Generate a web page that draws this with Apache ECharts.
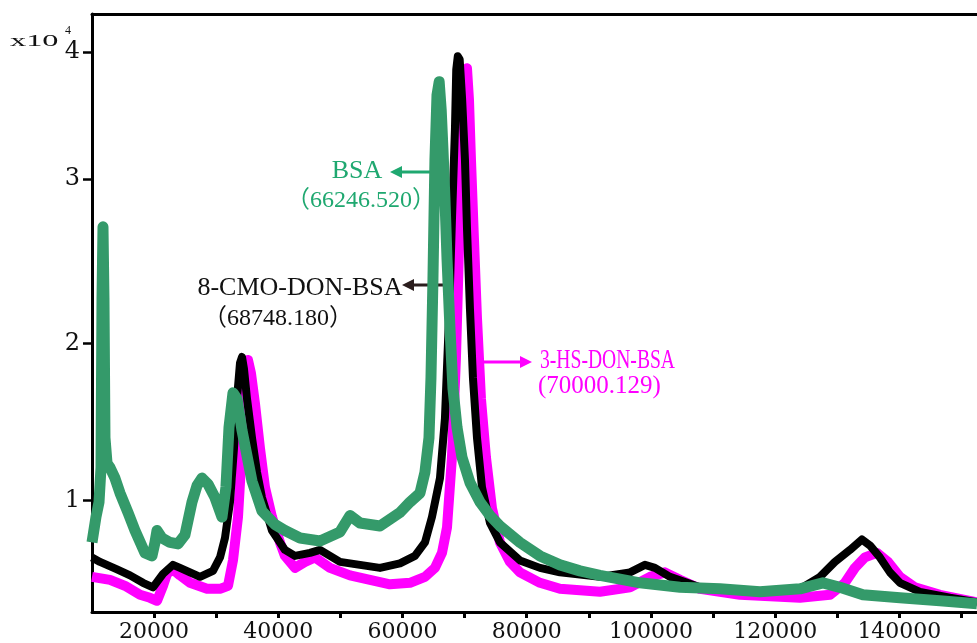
<!DOCTYPE html>
<html>
<head>
<meta charset="utf-8">
<script src="https://cdn.jsdelivr.net/npm/echarts@6/dist/echarts.min.js"></script>
<style>
  html, body { margin: 0; padding: 0; background: #fff; }
  #main { width: 977px; height: 643px; }
</style>
</head>
<body>
<div id="main"></div>
<script>
// mass (Da), intensity (x10^4)
const bsa = [
  [10000, 0.72], [10640, 0.89], [11130, 0.99], [11450, 1.22], [11610, 2.35], [11770, 2.83],
  [11930, 2.35], [12090, 1.42], [12420, 1.25], [12900, 1.22], [13700, 1.15], [14510, 1.05],
  [15800, 0.92], [16920, 0.80], [18530, 0.65], [19660, 0.63], [20140, 0.72], [20470, 0.80],
  [21270, 0.75], [22560, 0.72], [23850, 0.71], [24970, 0.77], [26100, 0.99], [26910, 1.10],
  [27710, 1.15], [28680, 1.11], [29800, 1.02], [30930, 0.89], [31570, 1.09], [32060, 1.49],
  [32700, 1.72], [33350, 1.68], [34150, 1.47], [35760, 1.13], [37370, 0.93], [39460, 0.84],
  [41070, 0.80], [43490, 0.75], [46710, 0.73], [49930, 0.79], [51540, 0.90], [53150, 0.85],
  [56370, 0.83], [59590, 0.92], [61200, 0.99], [62810, 1.05], [63610, 1.19], [64260, 1.42],
  [64580, 1.82], [64900, 2.48], [65220, 3.28], [65550, 3.71], [65900, 3.80], [66230, 3.61],
  [66510, 3.35], [66830, 3.02], [67160, 2.62], [67640, 2.15], [68120, 1.75], [68770, 1.49],
  [69570, 1.29], [70860, 1.12], [72470, 0.99], [74080, 0.90], [75690, 0.83], [78910, 0.72],
  [82130, 0.63], [85350, 0.57], [88570, 0.53], [91790, 0.50], [98230, 0.45], [104670, 0.42],
  [111110, 0.41], [117550, 0.39], [123990, 0.41], [127690, 0.45], [130430, 0.42], [134130, 0.37],
  [140090, 0.35], [146530, 0.33], [152490, 0.31]
];
const cmoDonBsa = [
  [10000, 0.62], [11290, 0.59], [14030, 0.54], [16120, 0.50], [18210, 0.45], [19820, 0.42],
  [21430, 0.51], [23040, 0.57], [24170, 0.55], [25780, 0.52], [27390, 0.49], [29480, 0.53],
  [30610, 0.62], [31410, 0.75], [32220, 0.99], [32860, 1.35], [33350, 1.68], [33830, 1.92],
  [34150, 1.96], [34470, 1.88], [34960, 1.68], [35760, 1.42], [36570, 1.19], [37370, 1.02],
  [38980, 0.80], [41070, 0.67], [42680, 0.63], [45100, 0.65], [46710, 0.67], [49930, 0.59],
  [53150, 0.57], [56370, 0.55], [59590, 0.58], [62000, 0.63], [63610, 0.72], [64740, 0.89],
  [66030, 1.15], [66830, 1.55], [67480, 2.22], [67960, 2.88], [68440, 3.48], [68650, 3.88],
  [68900, 3.97], [69200, 3.95], [69600, 3.68], [70050, 3.28], [70380, 2.82], [70860, 2.28],
  [71340, 1.82], [71990, 1.42], [72790, 1.09], [74080, 0.85], [75690, 0.72], [78910, 0.60],
  [82130, 0.55], [85350, 0.52], [91790, 0.49], [96620, 0.52], [99030, 0.57], [100640, 0.55],
  [103060, 0.49], [107890, 0.42], [115940, 0.39], [123990, 0.41], [127210, 0.49], [129620, 0.59],
  [132040, 0.67], [133970, 0.74], [135260, 0.70], [136870, 0.62], [138480, 0.52], [140090, 0.45],
  [143310, 0.39], [148140, 0.35], [152490, 0.32]
];
const hsDonBsa = [
  [10000, 0.49], [12900, 0.47], [15310, 0.43], [17730, 0.37], [19340, 0.35], [20470, 0.33],
  [21430, 0.43], [22080, 0.51], [23040, 0.54], [24170, 0.50], [25780, 0.45], [28520, 0.41],
  [30610, 0.41], [31900, 0.43], [32700, 0.60], [33510, 0.89], [34150, 1.35], [34630, 1.75],
  [35120, 1.94], [35600, 1.85], [36240, 1.65], [37050, 1.35], [37850, 1.09], [38980, 0.89],
  [40270, 0.72], [41070, 0.63], [42680, 0.55], [44290, 0.59], [45900, 0.62], [48320, 0.55],
  [51540, 0.50], [54760, 0.47], [57980, 0.44], [61200, 0.45], [63610, 0.49], [65220, 0.55],
  [66350, 0.65], [67160, 0.82], [67960, 1.29], [68600, 1.95], [69090, 2.68], [69410, 3.21],
  [69730, 3.68], [70050, 3.88], [70380, 3.89], [70700, 3.68], [71020, 3.28], [71500, 2.75],
  [71990, 2.22], [72630, 1.68], [73430, 1.29], [74400, 0.95], [75690, 0.72], [77300, 0.59],
  [78910, 0.52], [82130, 0.45], [85350, 0.41], [91790, 0.39], [96620, 0.42], [99840, 0.49],
  [102250, 0.52], [104670, 0.47], [107890, 0.41], [114330, 0.37], [123990, 0.35], [128820, 0.37],
  [131230, 0.45], [132840, 0.55], [134450, 0.62], [136390, 0.65], [138160, 0.59], [140090, 0.49],
  [142500, 0.42], [146530, 0.37], [152490, 0.32]
];

const xLabelValues = [20000, 40000, 60000, 80000, 100000, 120000, 140000];
// the y tick marks of the original are not evenly spaced
const yTickValues = [1, 2.05, 3.15, 4];
const yTickLabels = ['1', '2', '3', '4'];

const serif = '"Liberation Serif", "Times New Roman", serif';
const green = '#1fa870';
const magenta = '#ff00ff';

var chart = echarts.init(document.getElementById('main'));

// arrow helper for the peak labels
function arrow(x1, x2, y, color) {
  const dir = x2 > x1 ? 1 : -1;
  return {
    type: 'group',
    children: [
      { type: 'line', shape: { x1: x1, y1: y, x2: x2 - dir * 8, y2: y }, style: { stroke: color, lineWidth: 3 } },
      { type: 'polygon', shape: { points: [[x2, y], [x2 - dir * 12, y - 6], [x2 - dir * 12, y + 6]] }, style: { fill: color } }
    ]
  };
}

var option = {
  animation: false,
  backgroundColor: '#fff',
  grid: { left: 92, right: 0, top: 14, bottom: 28 },
  xAxis: [
    {
      type: 'value',
      min: 10000,
      max: 152500,
      interval: 10000,
      axisLine: { onZero: false, lineStyle: { color: '#000', width: 3 } },
      axisTick: { length: 6, lineStyle: { color: '#000', width: 3 } },
      axisLabel: {
        interval: 0,
        showMinLabel: false,
        showMaxLabel: false,
        margin: 9,
        color: '#111',
        fontFamily: '"DejaVu Serif", serif',
        fontSize: 22,
        formatter: function (v) { return xLabelValues.indexOf(v) >= 0 ? String(v) : ''; }
      },
      splitLine: { show: false }
    },
    {
      // top frame line
      type: 'value',
      position: 'top',
      min: 10000,
      max: 152500,
      axisLine: { onZero: false, lineStyle: { color: '#000', width: 3 } },
      axisTick: { show: false },
      axisLabel: { show: false },
      splitLine: { show: false }
    }
  ],
  yAxis: {
    type: 'value',
    min: 0.255,
    max: 4.253,
    axisLine: { show: true, onZero: false, lineStyle: { color: '#000', width: 3 } },
    axisTick: { show: true, customValues: yTickValues, length: 9, lineStyle: { color: '#000', width: 2.5 } },
    axisLabel: {
      customValues: yTickValues,
      margin: 12,
      color: '#111',
      fontFamily: '"DejaVu Serif", serif',
      fontSize: 24,
      formatter: function (v) { return yTickLabels[yTickValues.indexOf(v)]; }
    },
    splitLine: { show: false }
  },
  series: [
    {
      name: '3-HS-DON-BSA',
      type: 'line',
      data: hsDonBsa,
      showSymbol: false,
      z: 2,
      lineStyle: { color: magenta, width: 10, join: 'round' }
    },
    {
      name: '8-CMO-DON-BSA',
      type: 'line',
      data: cmoDonBsa,
      showSymbol: false,
      z: 3,
      lineStyle: { color: '#000', width: 8, join: 'round' }
    },
    {
      name: 'BSA',
      type: 'line',
      data: bsa,
      showSymbol: false,
      z: 4,
      lineStyle: { color: '#349a6a', width: 11, join: 'round' }
    }
  ],
  graphic: [
    { type: 'text', x: 10, y: 42, scaleX: 1.9, style: { text: 'x10', font: '17px ' + serif, fill: '#111', verticalAlign: 'middle' } },
    { type: 'text', x: 65, y: 31, style: { text: '4', font: '12px ' + serif, fill: '#111', verticalAlign: 'middle' } },

    { type: 'text', x: 357, y: 171, style: { text: 'BSA', font: '26px ' + serif, fill: green, align: 'center', verticalAlign: 'middle' } },
    { type: 'text', x: 361, y: 201, style: { text: '（66246.520）', font: '24px ' + serif + ', "Noto Sans CJK SC"', fill: green, align: 'center', verticalAlign: 'middle' } },
    arrow(434, 390, 172, green),

    { type: 'text', x: 300, y: 288, style: { text: '8-CMO-DON-BSA', font: '26px ' + serif, fill: '#111', align: 'center', verticalAlign: 'middle' } },
    { type: 'text', x: 278, y: 319, style: { text: '（68748.180）', font: '24px ' + serif + ', "Noto Sans CJK SC"', fill: '#111', align: 'center', verticalAlign: 'middle' } },
    arrow(448, 402, 285, '#2b1d1d'),

    { type: 'text', x: 540, y: 361, scaleX: 0.7, style: { text: '3-HS-DON-BSA', font: '28px ' + serif, fill: magenta, verticalAlign: 'middle' } },
    { type: 'text', x: 538, y: 386, style: { text: '(70000.129)', font: '25px ' + serif, fill: magenta, verticalAlign: 'middle' } },
    arrow(482, 532, 362, magenta)
  ]
};

chart.setOption(option);
</script>
</body>
</html>
